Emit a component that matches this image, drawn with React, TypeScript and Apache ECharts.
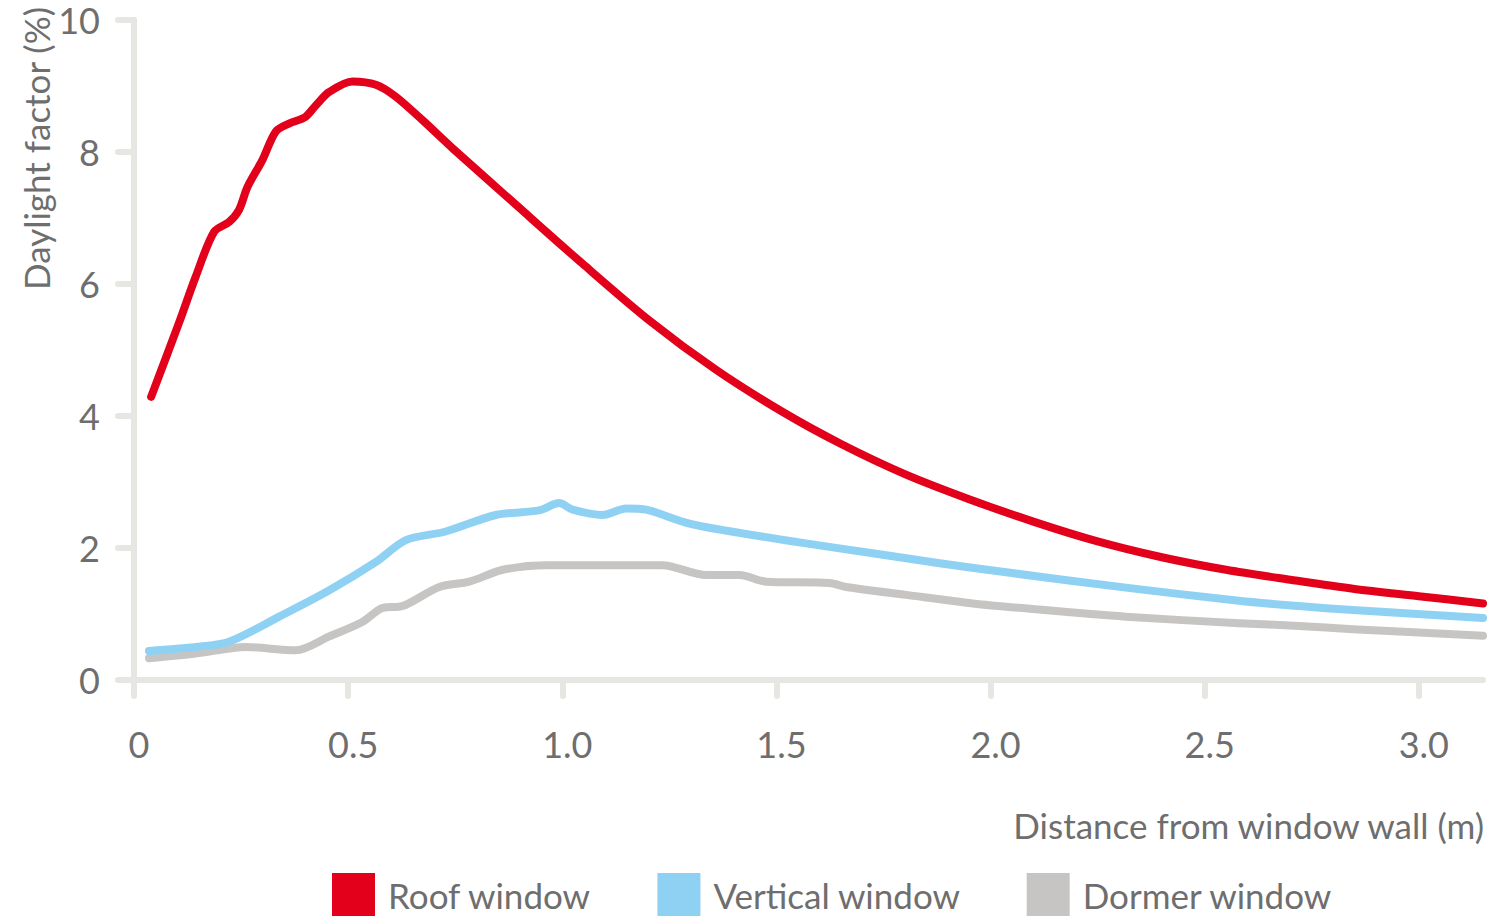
import React, { useEffect, useRef } from "react";
import * as echarts from "echarts";

// Distance from window wall (m) and daylight factor (%)
const roofDistance = [0.04, 0.105, 0.144, 0.187, 0.222, 0.245, 0.265, 0.3, 0.331, 0.362, 0.4, 0.425, 0.456, 0.51, 0.565, 0.611, 0.674, 0.745, 0.892, 1.047, 1.203, 1.359, 1.515, 1.65, 1.8, 1.95, 2.1, 2.25, 2.4, 2.55, 2.7, 2.85, 3.0, 3.15];
const roofValues = [4.29, 5.41, 6.11, 6.79, 6.94, 7.12, 7.47, 7.88, 8.31, 8.43, 8.53, 8.71, 8.91, 9.07, 9.02, 8.84, 8.48, 8.05, 7.2, 6.31, 5.45, 4.7, 4.06, 3.58, 3.12, 2.74, 2.4, 2.1, 1.86, 1.67, 1.52, 1.38, 1.27, 1.16];

const verticalDistance = [0.035, 0.144, 0.222, 0.339, 0.456, 0.565, 0.635, 0.728, 0.845, 0.946, 0.993, 1.024, 1.094, 1.149, 1.196, 1.297, 1.414, 1.569, 1.725, 1.881, 2.05, 2.316, 2.58, 2.72, 2.846, 3.15];
const verticalValues = [0.44, 0.5, 0.58, 0.96, 1.36, 1.79, 2.12, 2.25, 2.5, 2.57, 2.68, 2.58, 2.5, 2.6, 2.58, 2.37, 2.23, 2.07, 1.92, 1.77, 1.62, 1.4, 1.2, 1.12, 1.06, 0.94];

const dormerDistance = [0.035, 0.144, 0.261, 0.378, 0.456, 0.533, 0.58, 0.627, 0.713, 0.783, 0.861, 0.962, 1.102, 1.234, 1.336, 1.414, 1.476, 1.624, 1.663, 1.803, 1.959, 2.107, 2.316, 2.58, 2.72, 2.846, 3.15];
const dormerValues = [0.33, 0.4, 0.5, 0.45, 0.66, 0.88, 1.09, 1.12, 1.41, 1.49, 1.67, 1.74, 1.74, 1.74, 1.59, 1.59, 1.49, 1.47, 1.41, 1.29, 1.16, 1.07, 0.96, 0.86, 0.82, 0.77, 0.67];

const xTicks = [0, 0.5, 1.0, 1.5, 2.0, 2.5, 3.0];
const seriesNames = ["Roof window", "Vertical window", "Dormer window"];
const colors = ["#e2001a", "#8fd1f3", "#c6c5c3"];

const FONT = "Lato, 'Open Sans', sans-serif";
const TEXT_COLOR = "#6e6e6e";
const AXIS_COLOR = "#e6e6e2";

function pairs(xs: number[], ys: number[]) {
  return xs.map((x, i) => [x, ys[i]]);
}

export default function App() {
  const ref = useRef<HTMLDivElement>(null);
  useEffect(() => {
    if (!ref.current) return;
    const chart = echarts.init(ref.current, null, { renderer: "svg" });
    const datasets = [
      pairs(roofDistance, roofValues),
      pairs(verticalDistance, verticalValues),
      pairs(dormerDistance, dormerValues),
    ];
    chart.setOption({
      animation: false,
      backgroundColor: "#ffffff",
      grid: {
        left: 134,
        right: 9,
        top: 20,
        bottom: 240,
        containLabel: false,
        outerBoundsMode: "none",
      },
      xAxis: {
        type: "value",
        min: 0,
        max: 3.15,
        interval: 0.5,
        splitLine: { show: false },
        axisLine: { show: true, lineStyle: { color: AXIS_COLOR, width: 6, cap: "round" } },
        axisTick: {
          show: true,
          length: 16,
          inside: false,
          customValues: xTicks,
          lineStyle: { color: AXIS_COLOR, width: 6, cap: "round" },
        },
        axisLabel: {
          customValues: xTicks,
          margin: 46,
          color: TEXT_COLOR,
          fontFamily: FONT,
          fontSize: 36,
          padding: [0, 0, 0, 10],
          formatter: (v: number) => (v === 0 ? "0" : v.toFixed(1)),
        },
      },
      yAxis: {
        type: "value",
        min: 0,
        max: 10,
        interval: 2,
        splitLine: { show: false },
        axisLine: { show: true, lineStyle: { color: AXIS_COLOR, width: 6, cap: "round" } },
        axisTick: { show: true, length: 16, lineStyle: { color: AXIS_COLOR, width: 6, cap: "round" } },
        axisLabel: {
          margin: 34,
          color: TEXT_COLOR,
          fontFamily: FONT,
          fontSize: 36,
        },
      },
      legend: {
        left: 332,
        top: 873,
        padding: 0,
        icon: "rect",
        itemWidth: 43,
        itemHeight: 43,
        itemGap: 66,
        data: seriesNames,
        textStyle: {
          color: TEXT_COLOR,
          fontFamily: FONT,
          fontSize: 35,
          padding: [6, 0, 0, 8],
        },
      },
      graphic: [
        {
          type: "text",
          x: 36,
          y: 290,
          rotation: Math.PI / 2,
          style: {
            text: "Daylight factor (%)",
            fill: TEXT_COLOR,
            font: `35px ${FONT}`,
            textAlign: "left",
            textVerticalAlign: "middle",
          },
        },
        {
          type: "text",
          x: 1484,
          y: 825,
          style: {
            text: "Distance from window wall (m)",
            fill: TEXT_COLOR,
            font: `35px ${FONT}`,
            textAlign: "right",
            textVerticalAlign: "middle",
          },
        },
      ],
      series: seriesNames.map((name, i) => ({
        name,
        type: "line",
        data: datasets[i],
        smooth: 0.3,
        showSymbol: false,
        symbol: "none",
        z: 3 - i,
        itemStyle: { color: colors[i] },
        lineStyle: { color: colors[i], width: 8, cap: "round", join: "round" },
      })),
    });
    return () => chart.dispose();
  }, []);
  return (
    <div
      ref={ref}
      style={{ position: "fixed", left: 0, top: 0, width: 1492, height: 920, background: "#fff" }}
    />
  );
}
